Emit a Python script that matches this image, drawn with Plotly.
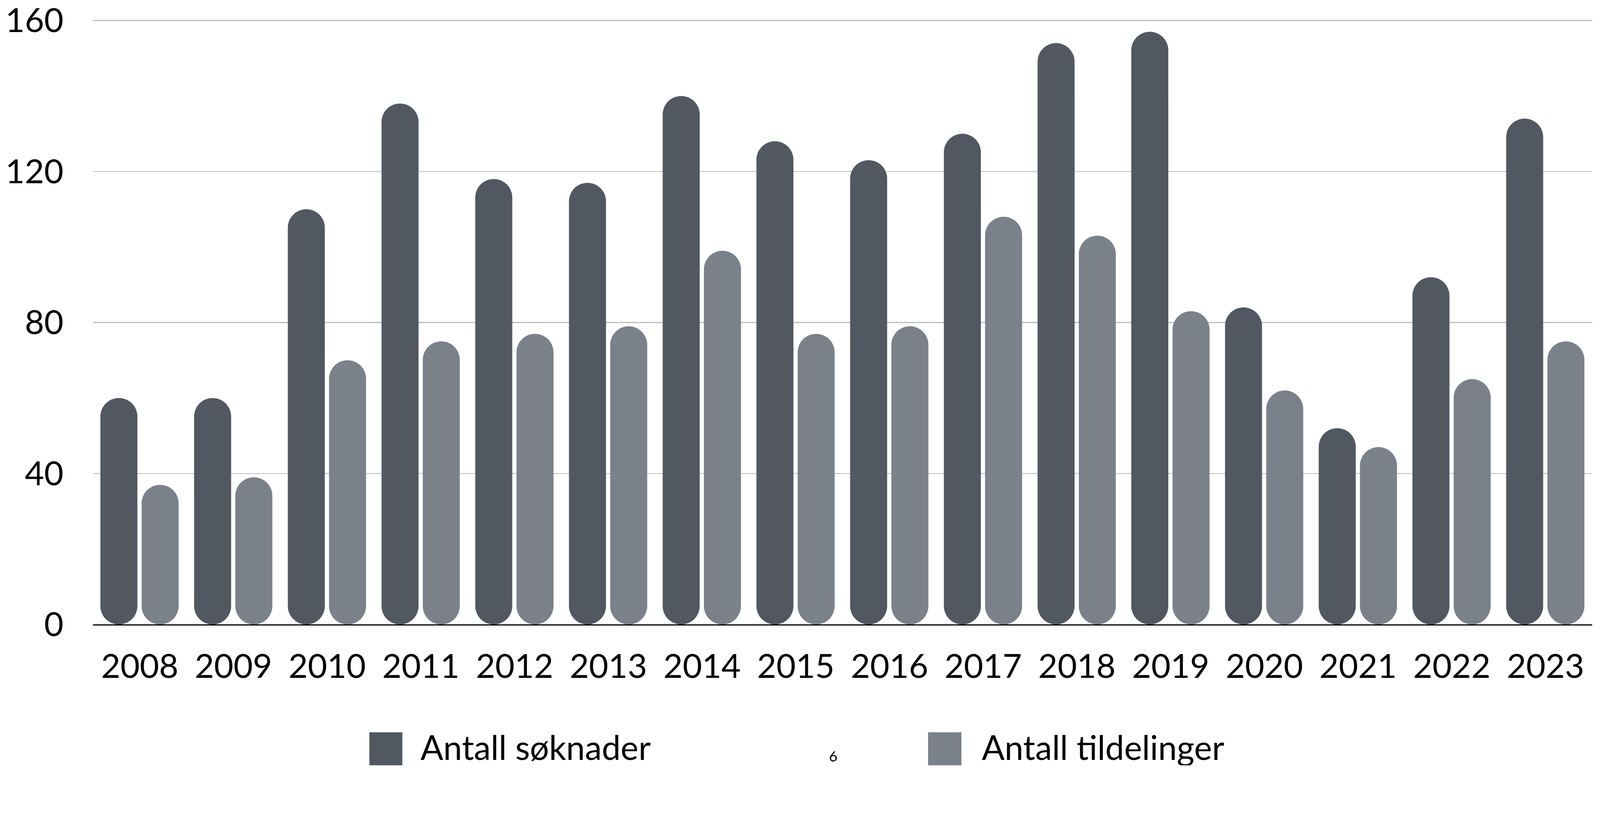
import plotly.graph_objects as go

# ---- data ----
years = ["2008", "2009", "2010", "2011", "2012", "2013", "2014", "2015",
         "2016", "2017", "2018", "2019", "2020", "2021", "2022", "2023"]
soknader = [60, 60, 110, 138, 118, 117, 140, 128, 123, 130, 154, 157, 84, 52, 92, 134]
tildelinger = [37, 39, 70, 75, 77, 79, 99, 77, 79, 108, 103, 83, 62, 47, 65, 75]
series_names = ["Antall søknader", "Antall tildelinger"]
y_ticks = [0, 40, 80, 120, 160]
page_number = "6"

# ---- styling ----
W, H = 4410, 2109
ML, MR, MT, MB = 256, 21, 46, 388
Y_MAX = 161
FONT = "Lato, 'Open Sans', sans-serif"
C_DARK = "#525861"
C_LIGHT = "#7b818a"
BAR_W = 0.395
OFFSETS = [-0.42, 0.02]

fig = go.Figure()

for vals, color, off, name in zip([soknader, tildelinger], [C_DARK, C_LIGHT], OFFSETS, series_names):
    fig.add_trace(go.Bar(
        x=years, y=vals, base=[0] * len(vals),
        width=BAR_W, offset=off, name=name, showlegend=False,
        marker=dict(color=color, cornerradius="50%", line=dict(width=0)),
        hoverinfo="skip",
    ))

plot_w = W - ML - MR
plot_h = H - MT - MB


def px_x(px):
    return (px - ML) / plot_w


def px_y(py):
    return (H - MB - py) / plot_h


shapes = []
annotations = []
legend_items = [
    (1018, 1109, 1157, C_DARK, series_names[0]),
    (2558, 2650, 2704, C_LIGHT, series_names[1]),
]
for x0, x1, tx, col, txt in legend_items:
    shapes.append(dict(type="rect", xref="paper", yref="paper",
                       x0=px_x(x0), x1=px_x(x1), y0=px_y(2018), y1=px_y(2140),
                       fillcolor=col, line=dict(width=0), layer="above"))
    annotations.append(dict(xref="paper", yref="paper", x=px_x(tx), y=px_y(2058),
                            xanchor="left", yanchor="middle", showarrow=False,
                            text=txt, font=dict(family=FONT, size=93, color="black")))

annotations.append(dict(xref="paper", yref="paper", x=px_x(2296), y=px_y(2083),
                        xanchor="center", yanchor="middle", showarrow=False,
                        text=page_number, font=dict(family=FONT, size=40, color="black")))

fig.update_layout(
    width=W, height=H,
    margin=dict(l=ML, r=MR, t=MT, b=MB, autoexpand=False),
    barmode="overlay",
    plot_bgcolor="white", paper_bgcolor="white",
    showlegend=False,
    shapes=shapes, annotations=annotations,
    font=dict(family=FONT, size=92, color="black"),
    xaxis=dict(type="category", range=[-0.5, 15.5], showgrid=False,
               showline=True, linecolor="black", linewidth=3, ticks="",
               tickfont=dict(family=FONT, size=92, color="black"),
               ticklabelstandoff=34, ticklabeloverflow="allow", fixedrange=True),
    yaxis=dict(range=[0, Y_MAX], tickvals=y_ticks, showgrid=True,
               gridcolor="#bdbdbd", gridwidth=2.5, zeroline=False,
               showline=False, ticks="",
               tickfont=dict(family=FONT, size=92, color="black"),
               ticklabelstandoff=80, ticklabeloverflow="allow", fixedrange=True),
)

post = """
(function(){
  var gd = document.getElementById('{plot_id}');
  document.documentElement.style.margin = '0';
  document.body.style.margin = '0';
  document.body.style.overflow = 'hidden';
  var s = window.innerWidth / %d;
  if (Math.abs(s - 1) > 0.002) {
    gd.style.transform = 'scale(' + s + ')';
    gd.style.transformOrigin = '0 0';
  }
  var wrap = gd.parentElement;
  wrap.style.width = (%d * s) + 'px';
  wrap.style.height = (%d * s) + 'px';
  wrap.style.overflow = 'hidden';
})();
""" % (W, W, H)

fig.write_html("out.html", config={"displayModeBar": False}, post_script=post)
